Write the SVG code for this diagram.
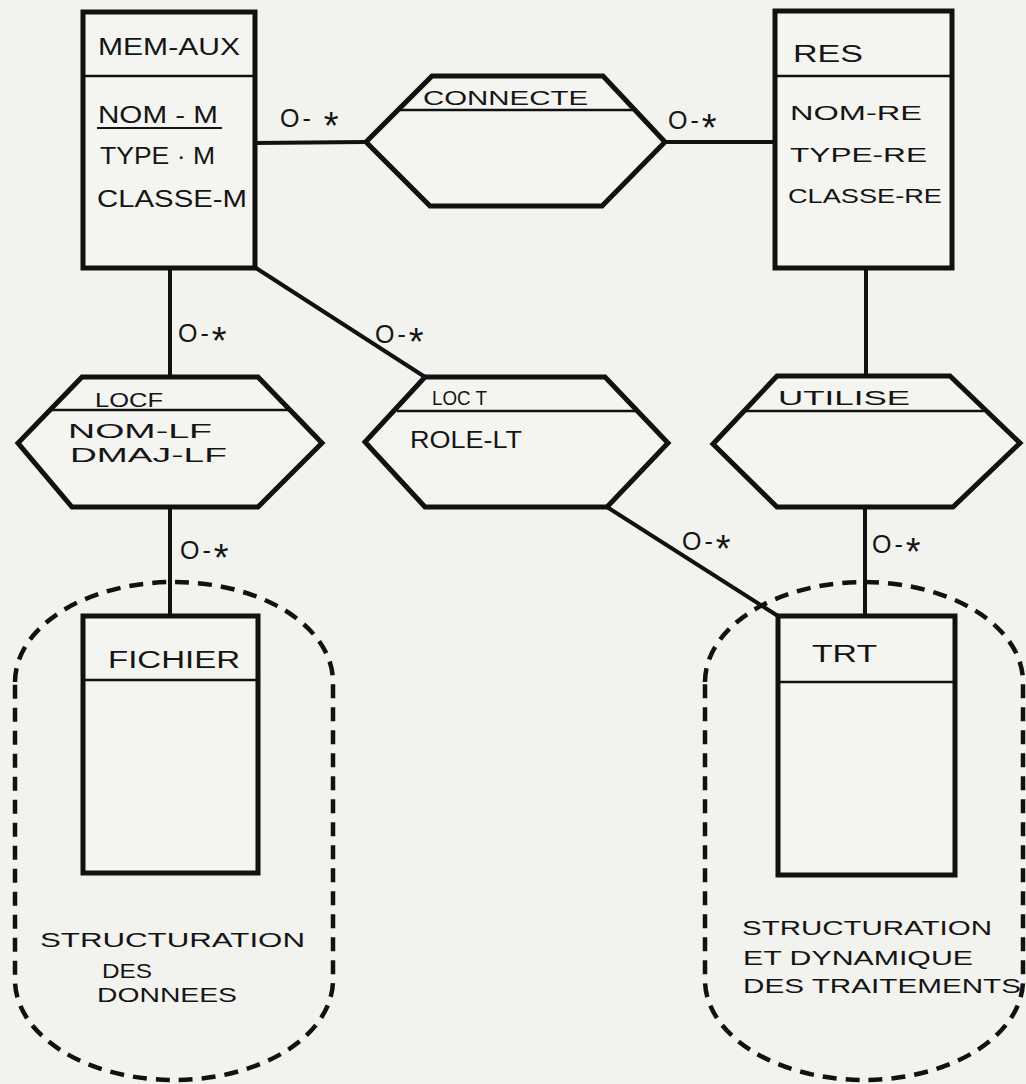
<svg xmlns="http://www.w3.org/2000/svg" width="1026" height="1084" viewBox="0 0 1026 1084">
<style>
.bg{fill:#f2f2ef}
.box{fill:#f4f4f1;stroke:#111;stroke-width:5;stroke-linejoin:miter}
.div{stroke:#111;stroke-width:2.5;fill:none}
.con{stroke:#111;stroke-width:4;fill:none;stroke-linecap:round}
.zone{fill:none;stroke:#111;stroke-width:4.5;stroke-dasharray:14 9}
text{font-family:"Liberation Sans","DejaVu Sans",sans-serif;fill:#151515;font-size:23px}
.sm{font-size:20px}
.card{font-size:25px;letter-spacing:3px}
.star{font-size:38px}
</style>
<rect class="bg" x="0" y="0" width="1026" height="1084"/>

<g id="zones">
<path class="zone" d="M15,682 A159,100 0 0 1 333,682 L333,980 A159,100 0 0 1 15,980 Z"/>
<path class="zone" d="M705,682 A159,100 0 0 1 1023,682 L1023,980 A159,100 0 0 1 705,980 Z"/>
</g>

<g id="connectors">
<line class="con" x1="254" y1="143" x2="366" y2="142"/>
<line class="con" x1="665" y1="142" x2="775" y2="142"/>
<line class="con" x1="170" y1="268" x2="170" y2="377"/>
<line class="con" x1="256" y1="268" x2="425" y2="377"/>
<line class="con" x1="866" y1="268" x2="866" y2="376"/>
<line class="con" x1="170" y1="507" x2="170" y2="616"/>
<line class="con" x1="607" y1="507" x2="778" y2="616"/>
<line class="con" x1="865" y1="507" x2="865" y2="616"/>
<text class="card" x="280" y="127">O- <tspan class="star" dy="12">*</tspan></text>
<text class="card" x="668" y="129">O-<tspan class="star" dy="12">*</tspan></text>
<text class="card" x="178" y="342">O-<tspan class="star" dy="12">*</tspan></text>
<text class="card" x="375" y="343">O-<tspan class="star" dy="12">*</tspan></text>
<text class="card" x="180" y="559">O-<tspan class="star" dy="12">*</tspan></text>
<text class="card" x="682" y="550">O-<tspan class="star" dy="12">*</tspan></text>
<text class="card" x="872" y="553">O-<tspan class="star" dy="12">*</tspan></text>
</g>

<g id="mem-aux">
<rect class="box" x="83" y="12" width="172" height="256"/>
<line class="div" x1="83" y1="76" x2="255" y2="76"/>
<text x="98" y="55" textLength="142" lengthAdjust="spacingAndGlyphs">MEM-AUX</text>
<text x="98" y="123" textLength="120" lengthAdjust="spacingAndGlyphs">NOM - M</text>
<line x1="97" y1="128" x2="222" y2="128" stroke="#151515" stroke-width="2"/>
<text x="100" y="164" textLength="115" lengthAdjust="spacingAndGlyphs">TYPE · M</text>
<text x="97" y="207" textLength="150" lengthAdjust="spacingAndGlyphs">CLASSE-M</text>
</g>

<g id="connecte">
<polygon class="box" points="432,76 603,76 665,142 602,206 430,206 366,142"/>
<line class="div" x1="398" y1="110" x2="634" y2="110"/>
<text class="sm" x="423" y="105" textLength="165" lengthAdjust="spacingAndGlyphs">CONNECTE</text>
</g>

<g id="res">
<rect class="box" x="775" y="11" width="177" height="257"/>
<line class="div" x1="775" y1="76" x2="952" y2="76"/>
<text x="793" y="62" textLength="70" lengthAdjust="spacingAndGlyphs">RES</text>
<text class="sm" x="790" y="120" textLength="132" lengthAdjust="spacingAndGlyphs">NOM-RE</text>
<text class="sm" x="790" y="162" textLength="137" lengthAdjust="spacingAndGlyphs">TYPE-RE</text>
<text class="sm" x="788" y="203" textLength="154" lengthAdjust="spacingAndGlyphs">CLASSE-RE</text>
</g>

<g id="locf">
<polygon class="box" points="82,377 258,377 322,443 258,507 72,507 18,443"/>
<line class="div" x1="50" y1="410" x2="290" y2="410"/>
<text class="sm" x="95" y="407" textLength="68" lengthAdjust="spacingAndGlyphs">LOCF</text>
<text class="sm" x="68" y="438" textLength="144" lengthAdjust="spacingAndGlyphs">NOM-LF</text>
<text class="sm" x="70" y="462" textLength="157" lengthAdjust="spacingAndGlyphs">DMAJ-LF</text>
</g>

<g id="loct">
<polygon class="box" points="425,377 605,377 668,443 607,507 425,507 365,442"/>
<line class="div" x1="397" y1="411" x2="638" y2="411"/>
<text class="sm" x="432" y="405" textLength="55" lengthAdjust="spacingAndGlyphs">LOC T</text>
<text x="410" y="448" textLength="112" lengthAdjust="spacingAndGlyphs">ROLE-LT</text>
</g>

<g id="utilise">
<polygon class="box" points="777,376 950,376 1020,443 953,507 777,507 713,444"/>
<line class="div" x1="746" y1="411" x2="984" y2="411"/>
<text class="sm" x="778" y="405" textLength="132" lengthAdjust="spacingAndGlyphs">UTILISE</text>
</g>

<g id="fichier">
<rect class="box" x="83" y="616" width="175" height="257"/>
<line class="div" x1="83" y1="680" x2="258" y2="680"/>
<text x="108" y="668" textLength="132" lengthAdjust="spacingAndGlyphs">FICHIER</text>
</g>

<g id="trt">
<rect class="box" x="778" y="616" width="177" height="259"/>
<line class="div" x1="778" y1="682" x2="955" y2="682"/>
<text x="812" y="662" textLength="65" lengthAdjust="spacingAndGlyphs">TRT</text>
</g>

<g id="labels">
<text class="sm" x="40" y="947" textLength="265" lengthAdjust="spacingAndGlyphs">STRUCTURATION</text>
<text class="sm" x="102" y="978" textLength="50" lengthAdjust="spacingAndGlyphs">DES</text>
<text class="sm" x="97" y="1002" textLength="140" lengthAdjust="spacingAndGlyphs">DONNEES</text>
<text class="sm" x="742" y="935" textLength="250" lengthAdjust="spacingAndGlyphs">STRUCTURATION</text>
<text class="sm" x="743" y="965" textLength="230" lengthAdjust="spacingAndGlyphs">ET DYNAMIQUE</text>
<text class="sm" x="743" y="993" textLength="278" lengthAdjust="spacingAndGlyphs">DES TRAITEMENTS</text>
</g>
</svg>
